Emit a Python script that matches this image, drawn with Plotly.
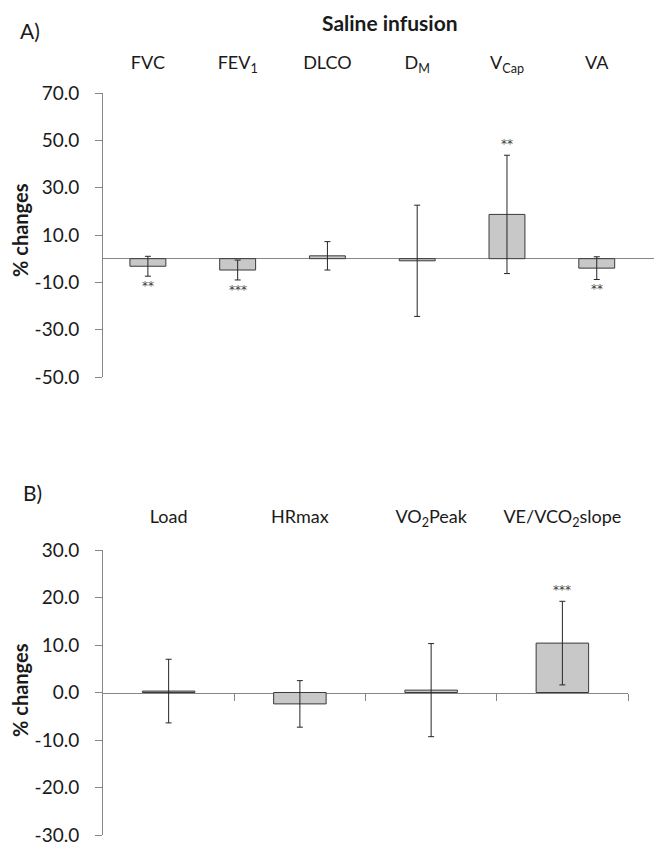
import plotly.graph_objects as go

# ---------------- data ----------------
top_categories = ["FVC", "FEV<sub>1</sub>", "DLCO", "D<sub>M</sub>", "V<sub>Cap</sub>", "VA"]
top_means = [-3.2, -4.8, 1.2, -0.9, 18.7, -4.0]
top_sd = [4.2, 4.2, 6.0, 23.5, 25.0, 4.8]
top_sig = ["**", "***", "", "", "**", "**"]
top_ticks = [-50, -30, -10, 10, 30, 50, 70]

bot_categories = ["Load", "HRmax", "VO<sub>2</sub>Peak", "VE/VCO<sub>2</sub>slope"]
bot_means = [0.3, -2.4, 0.5, 10.4]
bot_sd = [6.7, 4.9, 9.8, 8.8]
bot_sig = ["", "", "", "***"]
bot_ticks = [-30, -20, -10, 0, 10, 20, 30]

# ---------------- layout helpers ----------------
PAGE_W, PAGE_H = 662, 850
OFF = 8  # default body margin of the html page
W, H = PAGE_W - OFF, PAGE_H - OFF
FONT = "Lato, 'Noto Sans', sans-serif"
AXIS_GREY = "#868686"
TEXT = "#1a1a1a"


def px(v):
    return (v - OFF) / W


def py(v):
    return 1 - (v - OFF) / H


def fmt(v):
    return f"{v:.1f}"


top_ydom = [py(377), py(93)]
bot_ydom = [py(835), py(550)]
top_xdom = [px(103), px(656)]
bot_xdom = [px(103), px(628)]
top_yrange = [-50, 70]
bot_yrange = [-30, 30]

fig = go.Figure()

bar_style = dict(marker=dict(color="#c8c8c8", line=dict(color="#3a3a3a", width=1)),
                 width=0.4, showlegend=False, hoverinfo="skip")
err_style = dict(type="data", visible=True, color="#262626", thickness=1, width=3)

top_x = list(range(len(top_categories)))
bot_x = list(range(len(bot_categories)))

fig.add_trace(go.Bar(x=top_x, y=top_means,
                     error_y=dict(array=top_sd, **err_style),
                     xaxis="x", yaxis="y", **bar_style))
fig.add_trace(go.Bar(x=bot_x, y=bot_means,
                     error_y=dict(array=bot_sd, **err_style),
                     xaxis="x2", yaxis="y2", **bar_style))
# invisible trace so the zero-line axis of panel B is drawn
fig.add_trace(go.Scatter(x=[0], y=[0], mode="markers", marker=dict(opacity=0),
                         xaxis="x3", yaxis="y2", showlegend=False, hoverinfo="skip"))

ytick_font = dict(family=FONT, size=19, color=TEXT)
xcat_font = dict(family=FONT, size=18, color=TEXT)

bot_zero = bot_ydom[0] + (0 - bot_yrange[0]) / (bot_yrange[1] - bot_yrange[0]) * (bot_ydom[1] - bot_ydom[0])

fig.update_layout(
    width=W, height=H,
    margin=dict(l=0, r=0, t=0, b=0),
    paper_bgcolor="white", plot_bgcolor="white",
    xaxis=dict(domain=top_xdom, anchor="y", side="top", range=[-0.5, 5.66],
               tickmode="array", tickvals=top_x, ticktext=top_categories,
               showline=False, ticks="", showgrid=False, zeroline=False,
               tickfont=xcat_font, ticklabelstandoff=19, automargin=False),
    yaxis=dict(domain=top_ydom, anchor="x", range=top_yrange,
               tickmode="array", tickvals=top_ticks, ticktext=[fmt(v) for v in top_ticks],
               showline=True, linecolor=AXIS_GREY, linewidth=1,
               ticks="outside", ticklen=7, tickcolor=AXIS_GREY,
               showgrid=False, zeroline=True, zerolinecolor=AXIS_GREY, zerolinewidth=1,
               tickfont=ytick_font, ticklabelstandoff=12, automargin=False),
    xaxis2=dict(domain=bot_xdom, anchor="y2", side="top", range=[-0.5, 3.5],
                tickmode="array", tickvals=bot_x, ticktext=bot_categories,
                showline=False, ticks="", showgrid=False, zeroline=False,
                tickfont=xcat_font, ticklabelstandoff=22, automargin=False),
    yaxis2=dict(domain=bot_ydom, anchor="x2", range=bot_yrange,
                tickmode="array", tickvals=bot_ticks, ticktext=[fmt(v) for v in bot_ticks],
                showline=True, linecolor=AXIS_GREY, linewidth=1,
                ticks="outside", ticklen=7, tickcolor=AXIS_GREY,
                showgrid=False, zeroline=False,
                tickfont=ytick_font, ticklabelstandoff=12, automargin=False),
    xaxis3=dict(overlaying="x2", anchor="free", position=bot_zero, side="bottom",
                range=[-0.5, 3.5], tickmode="array",
                tickvals=[i + 0.5 for i in bot_x],
                showticklabels=False, ticks="outside", ticklen=7, tickcolor=AXIS_GREY,
                showline=True, linecolor=AXIS_GREY, linewidth=1,
                showgrid=False, zeroline=False, layer="below traces"),
)

annotations = []
star_font = dict(family="'DejaVu Sans', sans-serif", size=12, color="#404040")


def add_stars(cats_x, means, sds, sigs, xref, yref):
    for xv, m, s, sig in zip(cats_x, means, sds, sigs):
        if not sig:
            continue
        if m >= 0:
            annotations.append(dict(x=xv, y=m + s, xref=xref, yref=yref, text=sig,
                                    showarrow=False, xanchor="center", yanchor="bottom",
                                    yshift=2, font=star_font))
        else:
            annotations.append(dict(x=xv, y=m - s, xref=xref, yref=yref, text=sig,
                                    showarrow=False, xanchor="center", yanchor="top",
                                    yshift=-1, font=star_font))


add_stars(top_x, top_means, top_sd, top_sig, "x", "y")
add_stars(bot_x, bot_means, bot_sd, bot_sig, "x2", "y2")


def label(x, y, text, size, angle=0):
    return dict(x=px(x), y=py(y), xref="paper", yref="paper", text=text,
                textangle=angle, showarrow=False, xanchor="center", yanchor="middle",
                font=dict(family=FONT, size=size, color=TEXT))


annotations += [
    label(390, 22, "<b>Saline infusion</b>", 21),
    label(30, 31, "A)", 21),
    label(32, 492, "B)", 21),
    label(20, 230, "<b>% changes</b>", 20, -90),
    label(20, 690, "<b>% changes</b>", 20, -90),
]
fig.update_layout(annotations=annotations)

fig.write_html("out.html")
